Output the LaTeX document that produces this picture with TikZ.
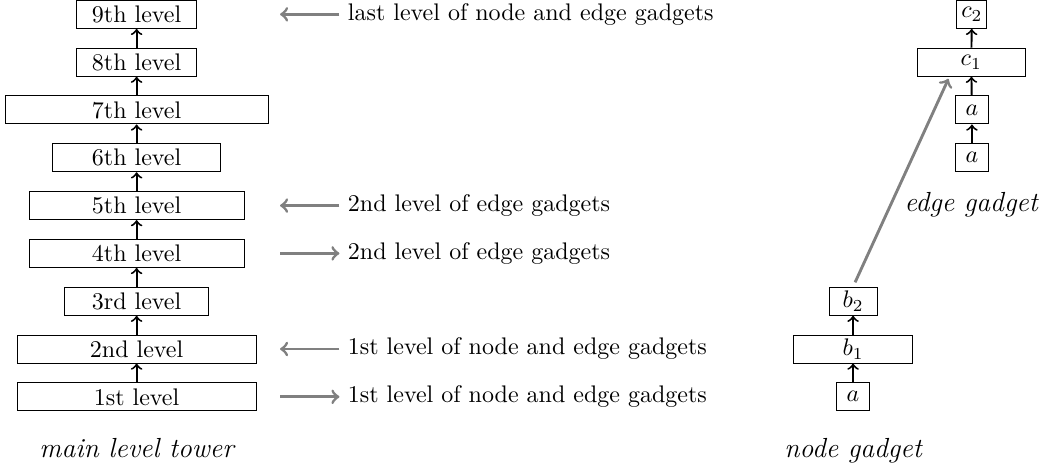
\documentclass[tikz,border=0pt]{standalone}
\usetikzlibrary{positioning, calc}

\begin{document}
\begin{tikzpicture}[
    tier/.style={draw, inner sep=1pt, minimum height=0.41cm},
    up/.style={->, thick},
    pointer/.style={->, draw=gray, very thick},
    note/.style={anchor=west},
    caption/.style={anchor=base, font=\fontsize{11.5}{13}\selectfont\itshape}
]

\useasboundingbox (-2.0,-1.01) rectangle (13.30,5.81);

% Main level tower
\node[tier, minimum width=3.5cm]  (l1) at (0,0)   {1st level};
\node[tier, minimum width=3.5cm]  (l2) at (0,0.7) {2nd level};
\node[tier, minimum width=2.1cm]  (l3) at (0,1.4) {3rd level};
\node[tier, minimum width=3.15cm] (l4) at (0,2.1) {4th level};
\node[tier, minimum width=3.15cm] (l5) at (0,2.8) {5th level};
\node[tier, minimum width=2.45cm] (l6) at (0,3.5) {6th level};
\node[tier, minimum width=3.85cm] (l7) at (0,4.2) {7th level};
\node[tier, minimum width=1.75cm] (l8) at (0,4.9) {8th level};
\node[tier, minimum width=1.75cm] (l9) at (0,5.6) {9th level};

\foreach \i/\j in {1/2, 2/3, 3/4, 4/5, 5/6, 6/7, 7/8, 8/9} {
    \draw[up] (l\i) -- (l\j);
}

% Notes next to the tower
\node[note] (n1) at (2.97,0)   {1st level of node and edge gadgets};
\node[note] (n2) at (2.97,0.7) {1st level of node and edge gadgets};
\node[note] (n4) at (2.97,2.1) {2nd level of edge gadgets};
\node[note] (n5) at (2.97,2.8) {2nd level of edge gadgets};
\node[note] (n9) at (2.97,5.6) {last level of node and edge gadgets};

\draw[pointer, <-] (n1.west) -- ++(-0.87,0);
\draw[pointer] (n2.west) -- ++(-0.87,0);
\draw[pointer, <-] (n4.west) -- ++(-0.87,0);
\draw[pointer] (n5.west) -- ++(-0.87,0);
\draw[pointer] (n9.west) -- ++(-0.87,0);

% Node gadget
\node[tier, minimum width=0.48cm] (na)  at (10.49,0)   {$a$};
\node[tier, minimum width=1.75cm] (nb1) at (10.49,0.7) {$b_1$};
\node[tier, minimum width=0.7cm]  (nb2) at (10.49,1.4) {$b_2$};
\draw[up] (na) -- (nb1);
\draw[up] (nb1) -- (nb2);

% Edge gadget
\node[tier, minimum width=0.48cm] (ea1) at (12.23,3.5) {$a$};
\node[tier, minimum width=0.48cm] (ea2) at (12.23,4.2) {$a$};
\node[tier, minimum width=1.58cm] (ec1) at (12.22,4.9) {$c_1$};
\node[tier, minimum width=0.44cm] (ec2) at (12.23,5.6) {$c_2$};
\draw[up] (ea1) -- (ea2);
\draw[up] (ea2) -- (ec1);
\draw[up] (ec1) -- (ec2);

\draw[pointer, shorten <=2pt, shorten >=1pt] (nb2.north) -- ($(ec1.south west)!0.3!(ec1.south east)$);

% Captions
\node[caption] (tower) at (0,-0.89)     {main level tower};
\node[caption] (ng)    at (10.49,-0.89) {node gadget};
\node[caption] (eg)    at (12.22,2.72)  {edge gadget};

\end{tikzpicture}
\end{document}
